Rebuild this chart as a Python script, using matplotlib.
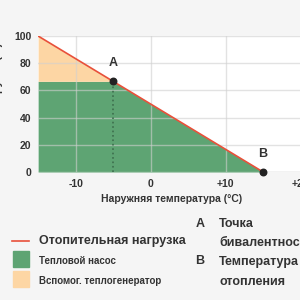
import matplotlib
matplotlib.use("Agg")
import matplotlib.pyplot as plt
import numpy as np

plt.rcParams["font.family"] = ["Liberation Sans", "DejaVu Sans"]

# data
load_temps = [-15, 15]          # outdoor temperature (°C)
load_values = [100, 0]          # heating load (%)
bivalent_temp = -5              # point A
heating_limit_temp = 15         # point B
x_ticks = [-10, 0, 10, 20]
x_tick_labels = ["-10", "0", "+10", "+20"]
y_ticks = [0, 20, 40, 60, 80, 100]

red = "#e8503a"
green = "#5ea473"
orange = "#fdd6a4"
txt = "#333333"

fig = plt.figure(figsize=(3, 3), dpi=100, facecolor="#f5f5f5")
ax = fig.add_axes([0.127, 0.4267, 0.9, 0.4533])
ax.set_facecolor("white")

xs = np.linspace(load_temps[0], load_temps[1], 200)
ys = np.interp(xs, load_temps, load_values)
a_val = np.interp(bivalent_temp, load_temps, load_values)
hp = np.minimum(ys, a_val)
ax.fill_between(xs, 0, hp, color=green, lw=0, zorder=1)
ax.fill_between(xs, hp, ys, where=ys >= a_val, color=orange, lw=0, zorder=1)
ax.plot(load_temps, load_values, color=red, lw=1.2, zorder=4)

ax.plot([bivalent_temp, bivalent_temp], [0, a_val], color="#3d6e4d", ls=":", lw=1.2, zorder=3)
ax.scatter([bivalent_temp, heating_limit_temp], [a_val, 0], s=22, color="#222222", zorder=5, clip_on=False)
ax.text(bivalent_temp, 80, "A", ha="center", va="center", fontsize=9, color=txt, fontweight="bold")
ax.text(heating_limit_temp, 13, "B", ha="center", va="center", fontsize=9, color=txt, fontweight="bold")

ax.set_xlim(-15, 21)
ax.set_ylim(0, 100)
ax.set_xticks(x_ticks)
ax.set_xticklabels(x_tick_labels)
ax.set_yticks(y_ticks)
ax.tick_params(length=0, labelsize=7.5, colors=txt, pad=5)
for lbl in ax.get_xticklabels() + ax.get_yticklabels():
    lbl.set_fontweight("bold")
ax.grid(True, color="#d0d0d0", lw=1, alpha=0.6, zorder=2)
ax.set_axisbelow(False)
for s in ax.spines.values():
    s.set_visible(False)
ax.axhline(0, color="#d8d8d8", lw=1, zorder=0)

ax.set_xlabel("Наружняя температура (°C)", fontsize=7.5, color=txt, fontweight="bold")
ax.xaxis.set_label_coords(0.4926, -0.165)
ax.set_ylabel("Тепловая нагрузка (%)", fontsize=8, color=txt, fontweight="bold")
ax.yaxis.set_label_coords(-0.13, 0.5)

# legend
fig.add_artist(plt.Line2D([12/300, 29/300], [1-241/300, 1-241/300], color=red, lw=1.2))
fig.text(39/300, 1-241/300, "Отопительная нагрузка", fontsize=9, color=txt, va="center", fontweight="bold")
fig.add_artist(plt.Rectangle((13/300, 1-267/300), 16/300, 16/300, color=green))
fig.text(39/300, 1-261/300, "Тепловой насос", fontsize=7, color=txt, va="center", fontweight="bold")
fig.add_artist(plt.Rectangle((13/300, 1-287/300), 16/300, 16/300, color=orange))
fig.text(39/300, 1-281/300, "Вспомог. теплогенератор", fontsize=7, color=txt, va="center", fontweight="bold")

fig.text(200/300, 1-224/300, "A", fontsize=9, color=txt, va="center", ha="center", fontweight="bold")
fig.text(219/300, 1-224/300, "Точка", fontsize=9, color=txt, va="center", fontweight="bold")
fig.text(219/300, 1-243/300, "бивалентности", fontsize=9, color=txt, va="center", fontweight="bold")
fig.text(200/300, 1-261/300, "B", fontsize=9, color=txt, va="center", ha="center", fontweight="bold")
fig.text(219/300, 1-262/300, "Температура", fontsize=9, color=txt, va="center", fontweight="bold")
fig.text(219/300, 1-282/300, "отопления", fontsize=9, color=txt, va="center", fontweight="bold")

fig.savefig("out.png", dpi=100, facecolor=fig.get_facecolor())
